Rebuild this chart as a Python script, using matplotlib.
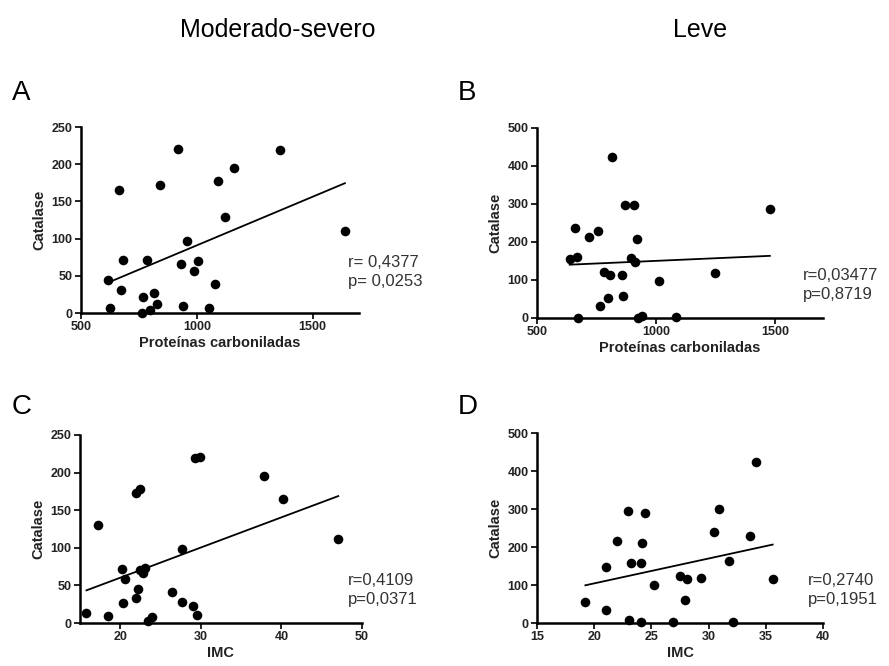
import matplotlib
matplotlib.use("Agg")
import matplotlib.pyplot as plt
import numpy as np

plt.rcParams['font.family'] = ['Liberation Sans', 'DejaVu Sans']

# Painel A: moderado-severo, proteínas carboniladas x catalase
a_x = [917, 1358, 1161, 1092, 664, 843, 1122, 1639, 958, 680, 787, 930, 1003,
       987, 616, 674, 1080, 769, 813, 830, 798, 764, 625, 942, 1053]
a_y = [220, 218.5, 195, 178, 165, 172, 129, 110.6, 97, 70.6, 71.5, 66.5, 70,
       57, 45, 31.5, 39.6, 21.6, 26.5, 11.7, 4.5, 0.5, 7.2, 9.9, 7.2]

# Painel B: leve, proteínas carboniladas x catalase
b_x = [814, 870, 908, 1477, 658, 754, 717, 921, 637, 666, 894, 910,
       780, 806, 856, 1246, 1011, 797, 859, 765, 670, 925, 939, 1083]
b_y = [423, 296.5, 298, 288, 238, 228, 213, 209, 155, 160.5, 157, 147,
       122, 114, 112, 117.5, 97, 52.6, 58, 32.5, 0, 0, 4, 2.6]

# Painel C: moderado-severo, IMC x catalase
c_x = [15.8, 17.2, 18.5, 20.25, 20.6, 20.3, 22.0, 22.5, 22.2, 21.9, 22.5, 22.8,
       23.1, 23.4, 23.9, 26.4, 27.7, 27.7, 29.0, 29.5, 29.3, 29.9, 37.8, 40.2, 47.05]
c_y = [13.7, 130.5, 8.8, 72, 58.4, 27, 172.6, 178.8, 45.6, 32.7, 70.8, 67,
       73, 2, 8, 41, 28, 97.8, 22, 11, 219, 221, 196, 165.5, 112]

# Painel D: leve, IMC x catalase
d_x = [19.23, 21.0, 21.0, 22.0, 22.97, 23.2, 23.0, 24.05, 24.17, 24.05, 24.46, 25.25,
       26.9, 27.5, 28.07, 27.96, 29.3, 30.47, 30.88, 31.8, 32.14, 33.66, 34.15, 35.6]
d_y = [55, 35, 148.6, 215, 296, 159, 7, 159, 210.7, 1.7, 289, 99.7,
       1.7, 125, 114.5, 59.4, 119, 239.5, 299, 162.6, 3.5, 229, 423, 116]

r_txt = ["r= 0,4377", "r=0,03477", "r=0,4109", "r=0,2740"]
p_txt = ["p= 0,0253", "p=0,8719", "p=0,0371", "p=0,1951"]
letras = ["A", "B", "C", "D"]
x_labels = ["Proteínas carboniladas", "Proteínas carboniladas", "IMC", "IMC"]
col_titles = ["Moderado-severo", "Leve"]

W, H = 889, 666
fig = plt.figure(figsize=(W / 100, H / 100), dpi=100)


def fx(px):
    return px / W


def fy(py):
    return 1 - py / H


def ax_rect(left, right, bottom, top):
    return [left / W, 1 - bottom / H, (right - left) / W, (bottom - top) / H]


# (dados, posição do eixo, limites, ticks, posição do texto r/p, posição da letra)
paineis = [
    (a_x, a_y, ax_rect(81, 359, 313, 127), (500, 1700), [500, 1000, 1500], (0, 250),
     np.arange(0, 251, 50), (348, 267), (12, 100)),
    (b_x, b_y, ax_rect(537, 823, 318, 128), (500, 1700), [500, 1000, 1500], (0, 500),
     np.arange(0, 501, 100), (803, 280), (458, 100)),
    (c_x, c_y, ax_rect(80, 362, 623, 435), (15, 50), [20, 30, 40, 50], (0, 250),
     np.arange(0, 251, 50), (348, 585), (12, 414)),
    (d_x, d_y, ax_rect(537, 823, 623, 433), (15, 40), [15, 20, 25, 30, 35, 40], (0, 500),
     np.arange(0, 501, 100), (808, 585), (458, 414)),
]

for i, (xs, ys, rect, xlim, xticks, ylim, yticks, txt_pos, let_pos) in enumerate(paineis):
    ax = fig.add_axes(rect)
    xs = np.array(xs)
    ys = np.array(ys)
    ax.scatter(xs, ys, s=48, color='black', zorder=3, clip_on=False, linewidths=0)

    # reta de regressão linear
    k, b = np.polyfit(xs, ys, 1)
    lx = np.array([xs.min(), xs.max()])
    ax.plot(lx, k * lx + b, color='black', lw=1.3)

    ax.set_xlim(*xlim)
    ax.set_ylim(*ylim)
    ax.set_xticks(xticks)
    ax.set_yticks(yticks)
    for s in ['top', 'right']:
        ax.spines[s].set_visible(False)
    for s in ['left', 'bottom']:
        ax.spines[s].set_linewidth(1.8)
    ax.tick_params(width=1.4, length=4.5, labelsize=9, pad=1.5, colors='#222222')
    for lab in ax.get_xticklabels() + ax.get_yticklabels():
        lab.set_fontweight('bold')
    ax.set_ylabel("Catalase", fontsize=10.5, fontweight='bold', labelpad=4, color='#222222')
    ax.set_xlabel(x_labels[i], fontsize=10.5, fontweight='bold', labelpad=2, color='#222222')

    # texto com r e p
    fig.text(fx(txt_pos[0]), fy(txt_pos[1]), r_txt[i], fontsize=12, color='#333333',
             va='baseline', ha='left')
    fig.text(fx(txt_pos[0]), fy(txt_pos[1] + 19), p_txt[i], fontsize=12, color='#333333',
             va='baseline', ha='left')

    # letra do painel
    fig.text(fx(let_pos[0]), fy(let_pos[1]), letras[i], fontsize=20, va='baseline', ha='left')

fig.text(fx(278), fy(37), col_titles[0], fontsize=18, ha='center', va='baseline')
fig.text(fx(700), fy(37), col_titles[1], fontsize=18, ha='center', va='baseline')

fig.savefig("out.png", dpi=100)
